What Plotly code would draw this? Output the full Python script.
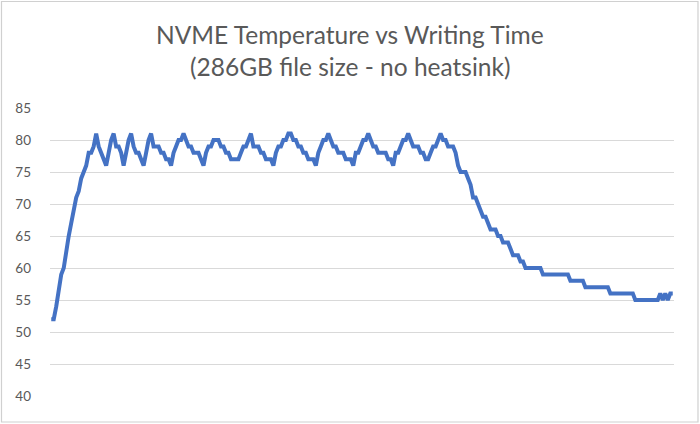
import plotly.graph_objects as go

# Temperature readings (°C), one per sample
temperature = [
    52, 52, 54, 57, 59, 60, 63, 65, 67, 69,
    71, 72, 74, 75, 76, 78, 78, 79, 81, 79,
    78, 77, 76, 78, 80, 81, 79, 79, 78, 76,
    78, 80, 81, 79, 78, 78, 77, 76, 78, 80,
    81, 79, 79, 79, 78, 78, 77, 77, 76, 78,
    79, 80, 80, 81, 80, 79, 79, 78, 78, 78,
    77, 76, 78, 79, 79, 80, 80, 80, 79, 79,
    78, 78, 77, 77, 77, 77, 78, 79, 79, 80,
    81, 79, 79, 79, 78, 78, 77, 77, 77, 76,
    78, 79, 79, 80, 80, 81, 81, 80, 80, 79,
    79, 78, 78, 77, 77, 77, 76, 78, 79, 80,
    80, 81, 80, 79, 79, 78, 78, 78, 77, 77,
    77, 76, 78, 78, 79, 80, 80, 81, 80, 79,
    79, 78, 78, 78, 78, 77, 77, 76, 78, 78,
    79, 80, 80, 81, 80, 79, 79, 79, 78, 78,
    77, 77, 78, 79, 79, 80, 81, 80, 80, 79,
    79, 79, 78, 76, 75, 75, 75, 74, 73, 71,
    71, 70, 69, 68, 68, 67, 66, 66, 66, 65,
    65, 64, 64, 64, 63, 62, 62, 62, 61, 61,
    60, 60, 60, 60, 60, 60, 60, 59, 59, 59,
    59, 59, 59, 59, 59, 59, 59, 59, 58, 58,
    58, 58, 58, 58, 57, 57, 57, 57, 57, 57,
    57, 57, 57, 57, 56, 56, 56, 56, 56, 56,
    56, 56, 56, 56, 55, 55, 55, 55, 55, 55,
    55, 55, 55, 55, 56, 55, 56, 55, 56, 56,
]
samples = list(range(len(temperature)))

title_lines = ["NVME Temperature vs Writing Time", "(286GB file size - no heatsink)"]
y_ticks = [40, 45, 50, 55, 60, 65, 70, 75, 80, 85]

fig = go.Figure()
fig.add_trace(go.Scatter(
    x=samples, y=temperature, mode="lines",
    line=dict(color="#4472C4", width=4),
    hoverinfo="y",
))

W, H = 700, 424
L, R, T, B = 50, 26, 108, 28
pw, ph = W - L - R, H - T - B


def px_x(x):
    return (x - L) / pw


def px_y(y):
    return (T + ph - y) / ph


title_centers = [35, 67]
annotations = [
    dict(text=t, xref="paper", yref="paper", x=px_x(W / 2), y=px_y(cy),
         xanchor="center", yanchor="middle", showarrow=False,
         font=dict(size=24.5, color="#595959"))
    for t, cy in zip(title_lines, title_centers)
]

fig.update_layout(
    width=W, height=H,
    margin=dict(l=L, r=R, t=T, b=B),
    paper_bgcolor="white", plot_bgcolor="white",
    showlegend=False,
    font=dict(family="Lato, Open Sans, sans-serif", color="#595959"),
    annotations=annotations,
    xaxis=dict(
        range=[-0.5, len(temperature) - 0.5],
        showticklabels=False, showgrid=False, zeroline=False,
        showline=False, ticks="",
    ),
    yaxis=dict(
        range=[40, 85], tickvals=y_ticks,
        showgrid=True, gridcolor="#d9d9d9", gridwidth=1,
        zeroline=False, showline=False, ticks="",
        tickfont=dict(size=13.5, color="#595959"),
        ticklabelstandoff=18,
    ),
    shapes=[dict(
        type="rect", xref="paper", yref="paper",
        x0=px_x(1.5), x1=px_x(W - 2),
        y0=px_y(H - 2), y1=px_y(1.5),
        line=dict(color="#d0d0d0", width=1.2),
        layer="above",
    )],
)

fig.write_html(
    "out.html",
    config={"displayModeBar": False},
    post_script="document.body.style.margin='0';document.body.style.overflow='hidden';",
)
